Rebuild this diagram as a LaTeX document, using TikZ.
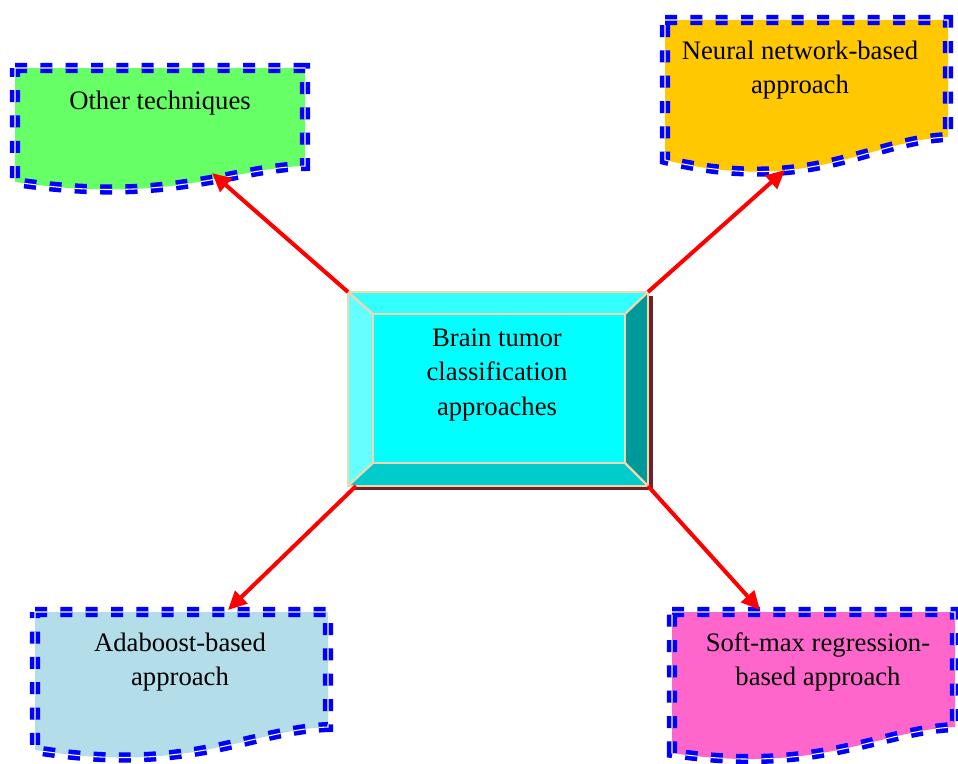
\documentclass[tikz,border=0pt]{standalone}
\usepackage{fontspec}
\setmainfont{Liberation Serif}
\usetikzlibrary{arrows.meta}
\definecolor{docblue}{HTML}{0000FF}
\definecolor{dgreen}{HTML}{66FF66}
\definecolor{dorange}{HTML}{FFC800}
\definecolor{dlblue}{HTML}{B3DDE8}
\definecolor{dpink}{HTML}{FF66CC}
\definecolor{bevtop}{HTML}{33FFFF}
\definecolor{bevleft}{HTML}{66FFFF}
\definecolor{bevin}{HTML}{00FFFF}
\definecolor{bevright}{HTML}{009999}
\definecolor{bevbot}{HTML}{00CCCC}
\definecolor{bevedge}{HTML}{F5D5B0}
\definecolor{shadowc}{HTML}{6E2424}
\begin{document}
\begin{tikzpicture}[x=0.75pt,y=-0.75pt,
  docborder/.style={draw=docblue, line width=3.4pt, double=white, double distance=0.8pt, dash pattern=on 9pt off 10pt},
  lbl/.style={font=\fontsize{20}{26}\selectfont, align=center, text=black, inner sep=0pt},
  conn/.style={draw=red, line width=3pt, -{Triangle[length=14pt,width=13pt]}},
  bev/.style={draw=bevedge, line width=1.6pt, line join=miter}]
\useasboundingbox (0,0) rectangle (958,764);

% document shapes
\path[fill=dgreen, docborder] (15,68) -- (305,68) -- (305,166) .. controls (230,168) and (170,205) .. (15,182) -- cycle;
\path[fill=dorange, docborder] (665,20) -- (948,20) -- (948,137) .. controls (870,140) and (810,195) .. (665,160) -- cycle;
\path[fill=dlblue, docborder] (35,612) -- (328,612) -- (328,727) .. controls (250,730) and (190,775) .. (35,750) -- cycle;
\path[fill=dpink, docborder] (672,612) -- (955,612) -- (955,727) .. controls (880,730) and (820,775) .. (672,753) -- cycle;

\node[lbl] (other) at (160,103) {Other techniques};
\node[lbl] (neural) at (800,70) {Neural network-based\\approach};
\node[lbl] (ada) at (180,662) {Adaboost-based\\approach};
\node[lbl] (soft) at (818,662) {Soft-max regression-\\based approach};

% central bevelled box
\fill[shadowc] (352,296) rectangle (653,490);
\coordinate (o1) at (348,292);
\coordinate (o2) at (648,292);
\coordinate (o3) at (648,486);
\coordinate (o4) at (348,486);
\coordinate (i1) at (373,314);
\coordinate (i2) at (625,314);
\coordinate (i3) at (625,463);
\coordinate (i4) at (373,463);
\fill[bevtop] (o1) -- (o2) -- (i2) -- (i1) -- cycle;
\fill[bevleft] (o1) -- (i1) -- (i4) -- (o4) -- cycle;
\fill[bevright] (o2) -- (o3) -- (i3) -- (i2) -- cycle;
\fill[bevbot] (o4) -- (i4) -- (i3) -- (o3) -- cycle;
\fill[bevin] (i1) rectangle (i3);
\draw[bev] (o1) rectangle (o3);
\draw[bev] (i1) rectangle (i3);
\draw[bev] (o1) -- (i1) (o2) -- (i2) (o3) -- (i3) (o4) -- (i4);
\node[lbl] (center) at (497,375) {Brain tumor\\classification\\approaches};

% arrow end points on the document shapes
\coordinate (eo) at (212,173);
\coordinate (en) at (785,170);
\coordinate (ea) at (228,610);
\coordinate (es) at (760,610);

\draw[conn] (o1) -- (eo);
\draw[conn] (o2) -- (en);
\draw[conn] ([xshift=6pt]o4) -- (ea);
\draw[conn] (o3) -- (es);
\end{tikzpicture}
\end{document}
